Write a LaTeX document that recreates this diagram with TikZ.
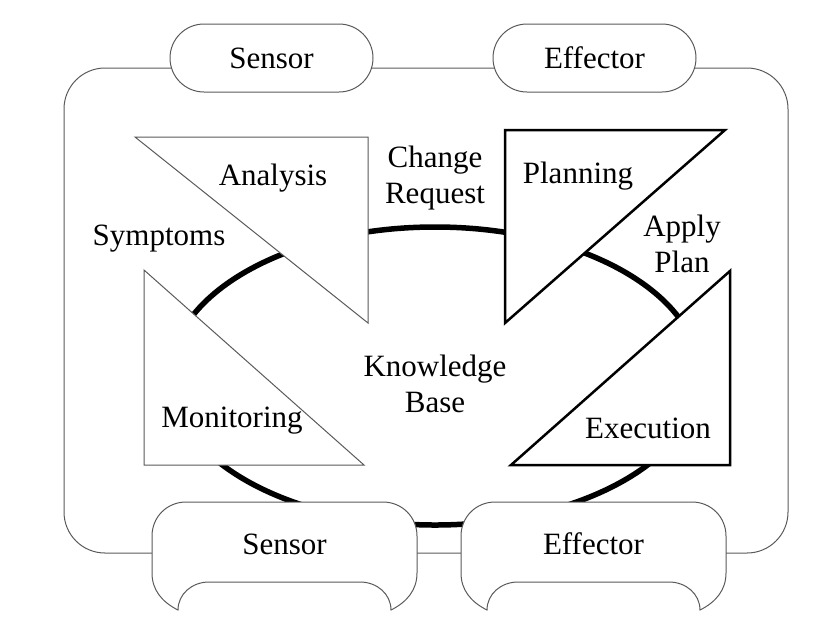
\documentclass[tikz,border=0pt]{standalone}
\usepackage{fontspec}
\setmainfont{Liberation Serif}
\usetikzlibrary{shapes, arrows, calc, positioning}
\newcommand{\lblfont}{\fontsize{31}{36}\selectfont}
\definecolor{edge}{HTML}{5A5A5A}
\tikzstyle{thinline} = [draw=edge, line width=1pt]
\tikzstyle{thickline} = [draw=black, line width=2.5pt, line join=miter]
\tikzstyle{kbline} = [draw=black, line width=5.5pt]
\tikzstyle{pill} = [rounded rectangle, draw=edge, line width=1pt, fill=white, minimum width=203pt, minimum height=68pt, inner sep=0pt, font=\lblfont]
\tikzstyle{tab} = [draw=edge, line width=1pt, fill=white]
\tikzstyle{txt} = [align=center, anchor=base, inner sep=0pt, font=\lblfont]

\begin{document}
\begin{tikzpicture}[x=1pt, y=-1pt]
        \useasboundingbox (0,0) rectangle (824,630);

        % outer loop and knowledge ring
        \draw[thinline, rounded corners=41pt] (272,68) -- (64,68) -- (64,553) -- (788,553) -- (788,68) -- cycle;
        \draw[kbline] (435,376) ellipse [x radius=265pt, y radius=149pt];

        % the four phases
        \draw[thinline, fill=white] (135,137) -- (368,137) -- (368,323) -- cycle;
        \draw[thinline, fill=white] (144,270) -- (144,465) -- (364,465) -- cycle;
        \draw[thickline, fill=white] (505,130) -- (725,130) -- (505,323) -- cycle;
        \draw[thickline, fill=white] (730,271) -- (730,465) -- (511,465) -- cycle;

        \node[pill] (s1) at (271.5,58) {Sensor};
        \node[pill, right=119pt of s1] (e1) {Effector};

        % bottom touchpoints
        \draw[tab, shift={(152,0)}] (26,610) .. controls (10,602) and (0,590) .. (0,573) -- (0,536) .. controls (0,517) and (15,502) .. (34,502) -- (231,502) .. controls (250,502) and (265,517) .. (265,536) -- (265,573) .. controls (265,590) and (255,602) .. (239,610) .. controls (239,594) and (225,582) .. (208,582) -- (57,582) .. controls (40,582) and (26,594) .. (26,610) -- cycle;
        \draw[tab, shift={(461,0)}] (26,610) .. controls (10,602) and (0,590) .. (0,573) -- (0,536) .. controls (0,517) and (15,502) .. (34,502) -- (231,502) .. controls (250,502) and (265,517) .. (265,536) -- (265,573) .. controls (265,590) and (255,602) .. (239,610) .. controls (239,594) and (225,582) .. (208,582) -- (57,582) .. controls (40,582) and (26,594) .. (26,610) -- cycle;

        \node[txt] (s2) at (284.5,554) {Sensor};
        \node[txt] (e2) at (593.5,554) {Effector};

        \node[txt] (an) at (273,185) {Analysis};
        \node[txt] (sy) at (159,245) {Symptoms};
        \node[txt] (cr) at (435,203) {Change\\Request};
        \node[txt] (pl) at (578,183) {Planning};
        \node[txt] (ap) at (682,272) {Apply\\Plan};
        \node[txt] (kb) at (435,412) {Knowledge\\Base};
        \node[txt] (mo) at (232,427) {Monitoring};
        \node[txt] (ex) at (648,438) {Execution};
    \end{tikzpicture}
\end{document}
